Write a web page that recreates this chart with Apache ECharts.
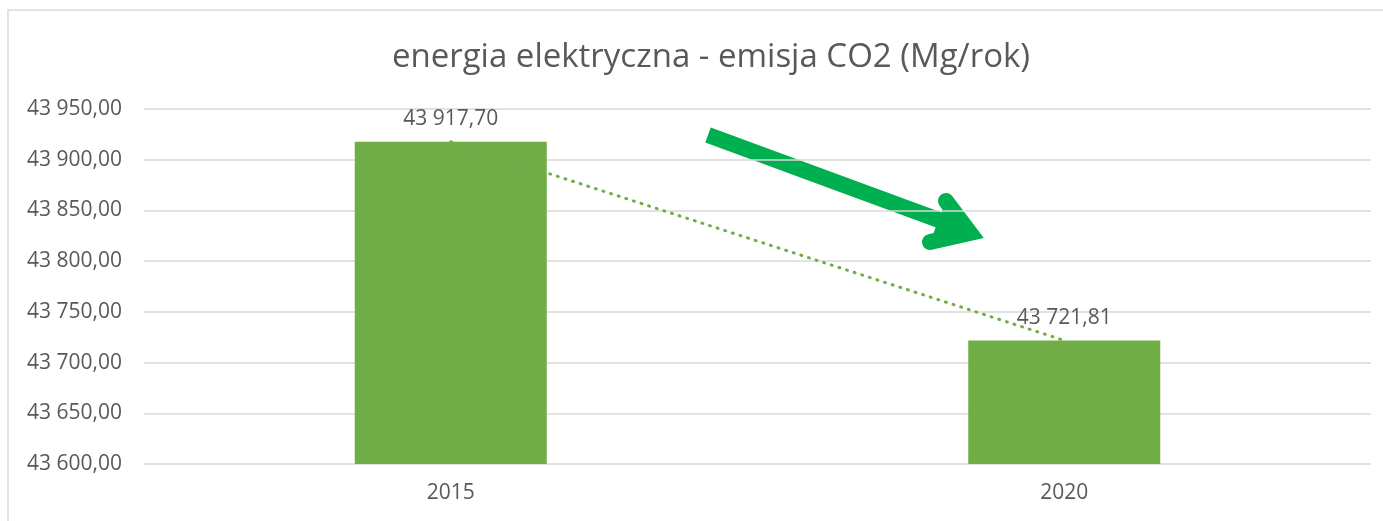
<!DOCTYPE html>
<html>
<head>
<meta charset="utf-8">
<script src="https://cdn.jsdelivr.net/npm/echarts@6/dist/echarts.min.js"></script>
<style>
  html, body { margin: 0; padding: 0; background: #fff; }
  #chart { width: 1383px; height: 521px; }
</style>
</head>
<body>
<div id="chart"></div>
<script>
// dane
const years = ['2015', '2020'];
const emisja = [43917.70, 43721.81];
const yMin = 43600, yMax = 43950, yStep = 50;

const textColor = '#595959';
const fontName = 'Open Sans';

// format pl: "43 917,70"
function fmt(v) {
    const parts = v.toFixed(2).split('.');
    return parts[0].replace(/\B(?=(\d{3})+(?!\d))/g, ' ') + ',' + parts[1];
}

let myChart = echarts.init(document.getElementById('chart'));

let option = {
    backgroundColor: '#fff',
    animation: false,
    title: {
        text: 'energia elektryczna - emisja CO2 (Mg/rok)',
        left: 706,
        textAlign: 'center',
        top: 36,
        textStyle: { color: textColor, fontFamily: fontName, fontSize: 33, fontWeight: 'normal' }
    },
    grid: { left: 144, right: 12, top: 109, bottom: 57 },
    xAxis: {
        type: 'category',
        data: years,
        axisLine: { show: false },
        axisTick: { show: false },
        axisLabel: { color: textColor, fontFamily: fontName, fontSize: 21, margin: 19 }
    },
    yAxis: {
        type: 'value',
        min: yMin,
        max: yMax,
        interval: yStep,
        axisLine: { show: false },
        axisTick: { show: false },
        splitLine: { lineStyle: { color: '#d9d9d9', width: 1.5 } },
        axisLabel: {
            color: textColor, fontFamily: fontName, fontSize: 21, margin: 22,
            formatter: v => fmt(v)
        }
    },
    series: [
        {
            type: 'bar',
            data: emisja,
            barWidth: '31.3%',
            itemStyle: { color: '#70AD47' },
            label: {
                show: true,
                position: 'top',
                distance: 12,
                color: textColor,
                fontFamily: fontName,
                fontSize: 21,
                formatter: p => fmt(p.value)
            }
        },
        {
            // linia trendu
            type: 'line',
            data: emisja,
            showSymbol: false,
            symbol: 'none',
            z: 3,
            lineStyle: { color: '#70AD47', width: 3, type: [1, 7], cap: 'round' }
        }
    ],
    graphic: [
        {
            type: 'rect',
            shape: { x: 8, y: 10, width: 1400, height: 540 },
            style: { fill: 'none', stroke: '#d9d9d9', lineWidth: 1.5 },
            z: -1,
            silent: true
        },
        {
            type: 'polyline',
            shape: { points: [[708, 135], [966, 230]] },
            style: { stroke: '#00B050', lineWidth: 16, lineCap: 'butt', fill: null },
            silent: true
        },
        {
            type: 'polyline',
            shape: { points: [[946, 201], [970, 233], [930, 242]] },
            style: { stroke: '#00B050', lineWidth: 16, lineCap: 'round', lineJoin: 'miter', fill: '#00B050' },
            silent: true
        }
    ]
};
option && myChart.setOption(option);
</script>
</body>
</html>
